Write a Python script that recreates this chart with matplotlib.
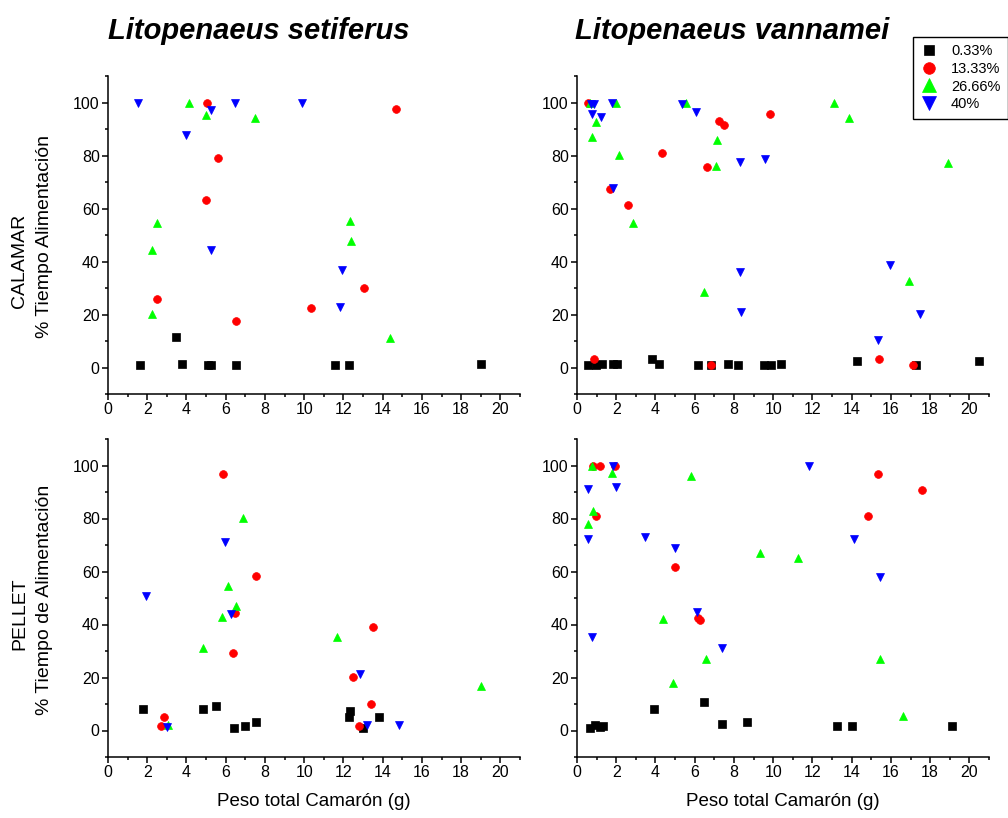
import matplotlib
matplotlib.use("Agg")
import matplotlib.pyplot as plt
from matplotlib.ticker import MultipleLocator

plt.rcParams["font.family"] = ["Liberation Sans", "DejaVu Sans"]

# Series labels (concentration) and styles
series_labels = ["0.33%", "13.33%", "26.66%", "40%"]

# --- Litopenaeus setiferus, CALAMAR ---
set_cal_sq_x = [1.63, 3.47, 3.79, 5.08, 5.26, 6.53, 11.55, 12.26, 19.01]
set_cal_sq_y = [0.8, 11.6, 1.5, 0.8, 0.8, 0.8, 0.8, 0.8, 1.5]
set_cal_ci_x = [5.05, 14.68, 5.63, 4.98, 2.52, 6.53, 10.36, 13.04]
set_cal_ci_y = [100, 97.4, 79.0, 63.3, 25.8, 17.5, 22.4, 29.9]
set_cal_up_x = [4.15, 4.97, 7.5, 2.48, 2.26, 2.26, 12.31, 12.41, 14.37]
set_cal_up_y = [100, 95.1, 94.2, 54.5, 44.3, 20.1, 55.2, 47.7, 11.1]
set_cal_dn_x = [1.55, 5.24, 6.46, 9.88, 3.96, 5.24, 11.92, 11.82]
set_cal_dn_y = [100, 97.0, 100, 100, 87.8, 44.4, 36.9, 22.9]

# --- Litopenaeus vannamei, CALAMAR ---
van_cal_sq_x = [0.58, 0.95, 1.29, 1.85, 2.02, 3.84, 4.18, 6.17, 6.82, 7.7,
                8.21, 9.51, 9.91, 10.42, 14.29, 17.26, 20.51]
van_cal_sq_y = [0.8, 0.8, 1.5, 1.5, 1.5, 3.1, 1.5, 0.8, 0.8, 1.5,
                0.8, 0.8, 0.8, 1.5, 2.4, 0.8, 2.4]
van_cal_ci_x = [0.58, 0.87, 6.84, 17.13, 15.37, 9.85, 7.24, 7.47, 4.32, 6.62, 1.68, 2.62]
van_cal_ci_y = [100, 3.1, 0.8, 0.8, 3.1, 95.7, 93.2, 91.6, 80.8, 75.7, 67.3, 61.5]
van_cal_up_x = [0.66, 1.99, 5.56, 13.08, 13.88, 0.95, 0.75, 7.16, 2.16, 7.11,
                2.84, 18.91, 6.48, 16.9]
van_cal_up_y = [100, 100, 100, 100, 94.2, 92.8, 86.9, 85.9, 80.3, 76.1,
                54.5, 77.0, 28.6, 32.8]
van_cal_dn_x = [0.70, 0.87, 1.80, 5.36, 6.06, 0.78, 1.21, 1.82, 8.32, 9.58,
                8.32, 8.37, 15.95, 17.47, 15.36]
van_cal_dn_y = [99.5, 99.5, 100, 99.5, 96.3, 95.5, 94.5, 67.7, 77.7, 78.7,
                36.2, 21.1, 38.7, 20.3, 10.4]

# --- Litopenaeus setiferus, PELLET ---
set_pel_sq_x = [1.77, 4.86, 5.48, 6.43, 7.0, 7.53, 12.35, 12.3, 13.79, 12.98]
set_pel_sq_y = [8.2, 8.2, 9.2, 0.9, 1.7, 3.3, 7.4, 5.1, 5.1, 0.9]
set_pel_ci_x = [5.88, 7.52, 6.46, 6.36, 13.49, 12.48, 13.38, 2.87, 2.69, 12.81]
set_pel_ci_y = [96.7, 58.3, 44.2, 29.1, 39.2, 20.1, 10.0, 5.1, 1.8, 1.8]
set_pel_up_x = [6.87, 6.12, 6.5, 5.8, 4.85, 11.65, 19.0, 3.08]
set_pel_up_y = [80.3, 54.5, 47.0, 42.7, 31.1, 35.4, 16.9, 2.2]
set_pel_dn_x = [1.96, 5.94, 6.29, 12.84, 13.2, 14.81, 2.99]
set_pel_dn_y = [50.6, 71.3, 44.0, 21.3, 2.2, 2.2, 1.4]

# --- Litopenaeus vannamei, PELLET ---
van_pel_sq_x = [0.68, 0.94, 1.17, 1.34, 3.95, 6.46, 7.4, 8.64, 13.27, 14.03, 19.12]
van_pel_sq_y = [0.9, 2.2, 1.2, 1.7, 8.2, 10.8, 2.5, 3.3, 1.7, 1.7, 1.7]
van_pel_ci_x = [0.83, 1.17, 1.94, 0.97, 5.0, 6.28, 6.17, 15.34, 14.81, 17.6]
van_pel_ci_y = [100, 100, 100, 80.8, 61.6, 41.8, 42.6, 96.7, 80.8, 90.8]
van_pel_up_x = [0.75, 1.77, 5.8, 0.82, 0.56, 9.34, 11.28, 4.37, 6.6, 4.88, 15.46, 16.62]
van_pel_up_y = [100, 97.0, 96.2, 82.8, 77.8, 67.0, 65.2, 42.1, 27.0, 17.8, 27.0, 5.5]
van_pel_dn_x = [1.85, 11.8, 0.56, 1.99, 0.56, 3.49, 5.02, 14.13, 15.44, 6.14, 0.77, 7.38]
van_pel_dn_y = [99.8, 99.8, 91.3, 92.0, 72.1, 72.9, 68.8, 72.1, 57.8, 44.6, 35.4, 31.3]

styles = [
    dict(marker="s", color="#000000", ms=5.2),
    dict(marker="o", color="#ff0000", ms=5.6),
    dict(marker="^", color="#00ff00", ms=6.3),
    dict(marker="v", color="#0000ff", ms=6.3),
]

W, H = 1008, 818
fig = plt.figure(figsize=(W / 100, H / 100), dpi=100)


def frac_box(left, right, top, bottom):
    return [left / W, 1 - bottom / H, (right - left) / W, (bottom - top) / H]


panels = [
    (frac_box(108, 520, 76, 394),
     [(set_cal_sq_x, set_cal_sq_y), (set_cal_ci_x, set_cal_ci_y),
      (set_cal_up_x, set_cal_up_y), (set_cal_dn_x, set_cal_dn_y)], False),
    (frac_box(577, 989, 76, 394),
     [(van_cal_sq_x, van_cal_sq_y), (van_cal_ci_x, van_cal_ci_y),
      (van_cal_up_x, van_cal_up_y), (van_cal_dn_x, van_cal_dn_y)], False),
    (frac_box(108, 520, 439, 757),
     [(set_pel_sq_x, set_pel_sq_y), (set_pel_ci_x, set_pel_ci_y),
      (set_pel_up_x, set_pel_up_y), (set_pel_dn_x, set_pel_dn_y)], True),
    (frac_box(577, 989, 439, 757),
     [(van_pel_sq_x, van_pel_sq_y), (van_pel_ci_x, van_pel_ci_y),
      (van_pel_up_x, van_pel_up_y), (van_pel_dn_x, van_pel_dn_y)], True),
]

handles = []
for box, data, bottom_row in panels:
    ax = fig.add_axes(box)
    hs = []
    for (xs, ys), st in zip(data, styles):
        h, = ax.plot(xs, ys, linestyle="none", marker=st["marker"],
                     markersize=st["ms"], markerfacecolor=st["color"],
                     markeredgecolor=st["color"], markeredgewidth=0.5)
        hs.append(h)
    handles = hs
    ax.set_xlim(0, 21)
    ax.set_ylim(-10, 110)
    ax.xaxis.set_major_locator(MultipleLocator(2))
    ax.xaxis.set_minor_locator(MultipleLocator(1))
    ax.yaxis.set_major_locator(MultipleLocator(20))
    ax.yaxis.set_minor_locator(MultipleLocator(10))
    for s in ("top", "right"):
        ax.spines[s].set_visible(False)
    for s in ("left", "bottom"):
        ax.spines[s].set_linewidth(1.1)
    ax.tick_params(which="major", direction="out", length=4, width=1.1,
                   labelsize=11.5, pad=2)
    ax.tick_params(which="minor", direction="out", length=2.5, width=1.1)
    if bottom_row:
        ax.set_xlabel("Peso total Camarón (g)", fontsize=13.5, labelpad=9)

# Species titles
fig.text(108 / W, 1 - 31 / H, "Litopenaeus setiferus", fontsize=21,
         fontweight="bold", fontstyle="italic", ha="left", va="center")
fig.text(575 / W, 1 - 31 / H, "Litopenaeus vannamei", fontsize=21,
         fontweight="bold", fontstyle="italic", ha="left", va="center")

# Row labels
fig.text(20 / W, 1 - 261 / H, "CALAMAR", fontsize=14, rotation=90,
         ha="center", va="center")
fig.text(45 / W, 1 - 236 / H, "% Tiempo Alimentación", fontsize=14,
         rotation=90, ha="center", va="center")
fig.text(20 / W, 1 - 614 / H, "PELLET", fontsize=14, rotation=90,
         ha="center", va="center")
fig.text(45 / W, 1 - 600 / H, "% Tiempo de Alimentación", fontsize=14,
         rotation=90, ha="center", va="center")

leg = fig.legend(handles, series_labels, loc="upper left",
                 bbox_to_anchor=(913 / W, 1 - 37 / H), fontsize=10.5,
                 markerscale=1.5, frameon=True, fancybox=False,
                 edgecolor="black", framealpha=1, borderpad=0.5,
                 labelspacing=0.25, handlelength=1.2, handletextpad=0.9,
                 borderaxespad=0)
leg.get_frame().set_linewidth(1.0)

fig.savefig("out.png", dpi=100)
